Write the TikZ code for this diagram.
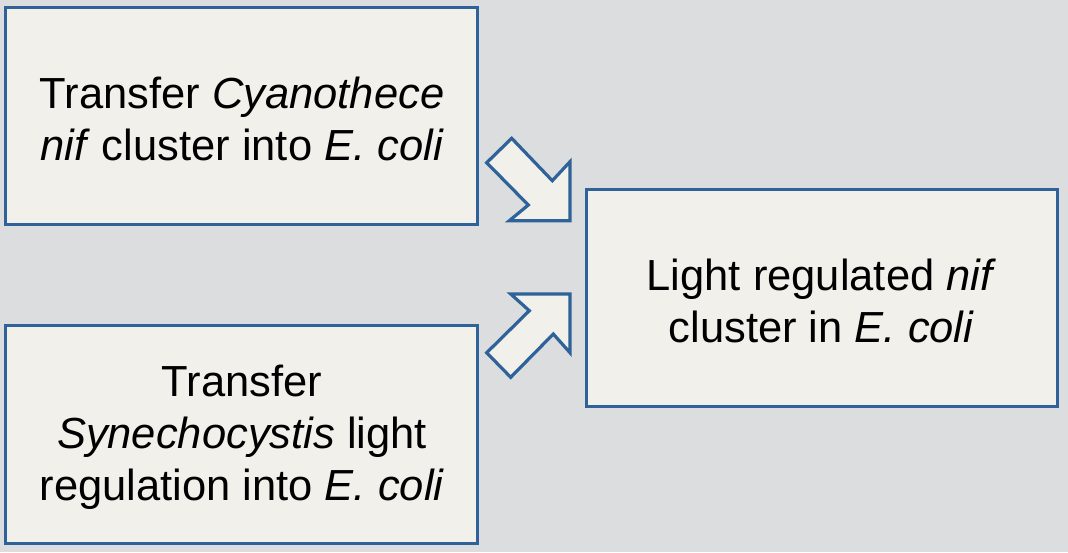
\documentclass[tikz,border=0pt]{standalone}
\usepackage{fontspec}
\setmainfont{Liberation Sans}
\definecolor{fondgris}{HTML}{DCDDDF}
\definecolor{boitefond}{HTML}{F2F0EA}
\definecolor{bordbleu}{HTML}{2F6298}
\tikzset{
  boite/.style={draw=bordbleu, fill=boitefond, line width=3pt, rectangle,
    align=center, inner sep=0pt, font=\fontsize{43.5}{52}\selectfont},
  fleche/.style={draw=bordbleu, fill=boitefond, line width=3.2pt, line join=miter}
}
\begin{document}
\begin{tikzpicture}[x=1pt,y=-1pt]
			\fill[fondgris] (0,0) rectangle (1068,552);
			\useasboundingbox (0,0) rectangle (1068,552);
			\node (Cy) at (241,115.5) [boite, minimum width=472pt, minimum height=217pt] {};
			\node (Sy) at (241,434) [boite, minimum width=472pt, minimum height=218pt] {};
			\node (Li) at (821.5,297.5) [boite, minimum width=471pt, minimum height=217pt] {};
			\node (tCy) at (242,119) [boite, draw=none, fill=none] {Transfer \textit{Cyanothece}\\\textit{nif} cluster into \textit{E. coli}};
			\node (tSy) at (242,437) [boite, draw=none, fill=none] {Transfer\\\textit{Synechocystis} light\\regulation into \textit{E. coli}};
			\node (tLi) at (821.5,301) [boite, draw=none, fill=none] {Light regulated \textit{nif}\\cluster in \textit{E. coli}};
			% fleches
			\draw[fleche] (486.7,162.7) -- (511.7,138.3) -- (552.3,180.7) -- (570,161.7)
				-- (570,220.7) -- (509.3,220.7) -- (528.3,205) -- cycle;
			\draw[fleche] (510.7,377.3) -- (486.7,352.7) -- (529.3,310.7) -- (510.7,294)
				-- (570,294) -- (570,352.7) -- (553.3,334) -- cycle;
		\end{tikzpicture}
\end{document}
